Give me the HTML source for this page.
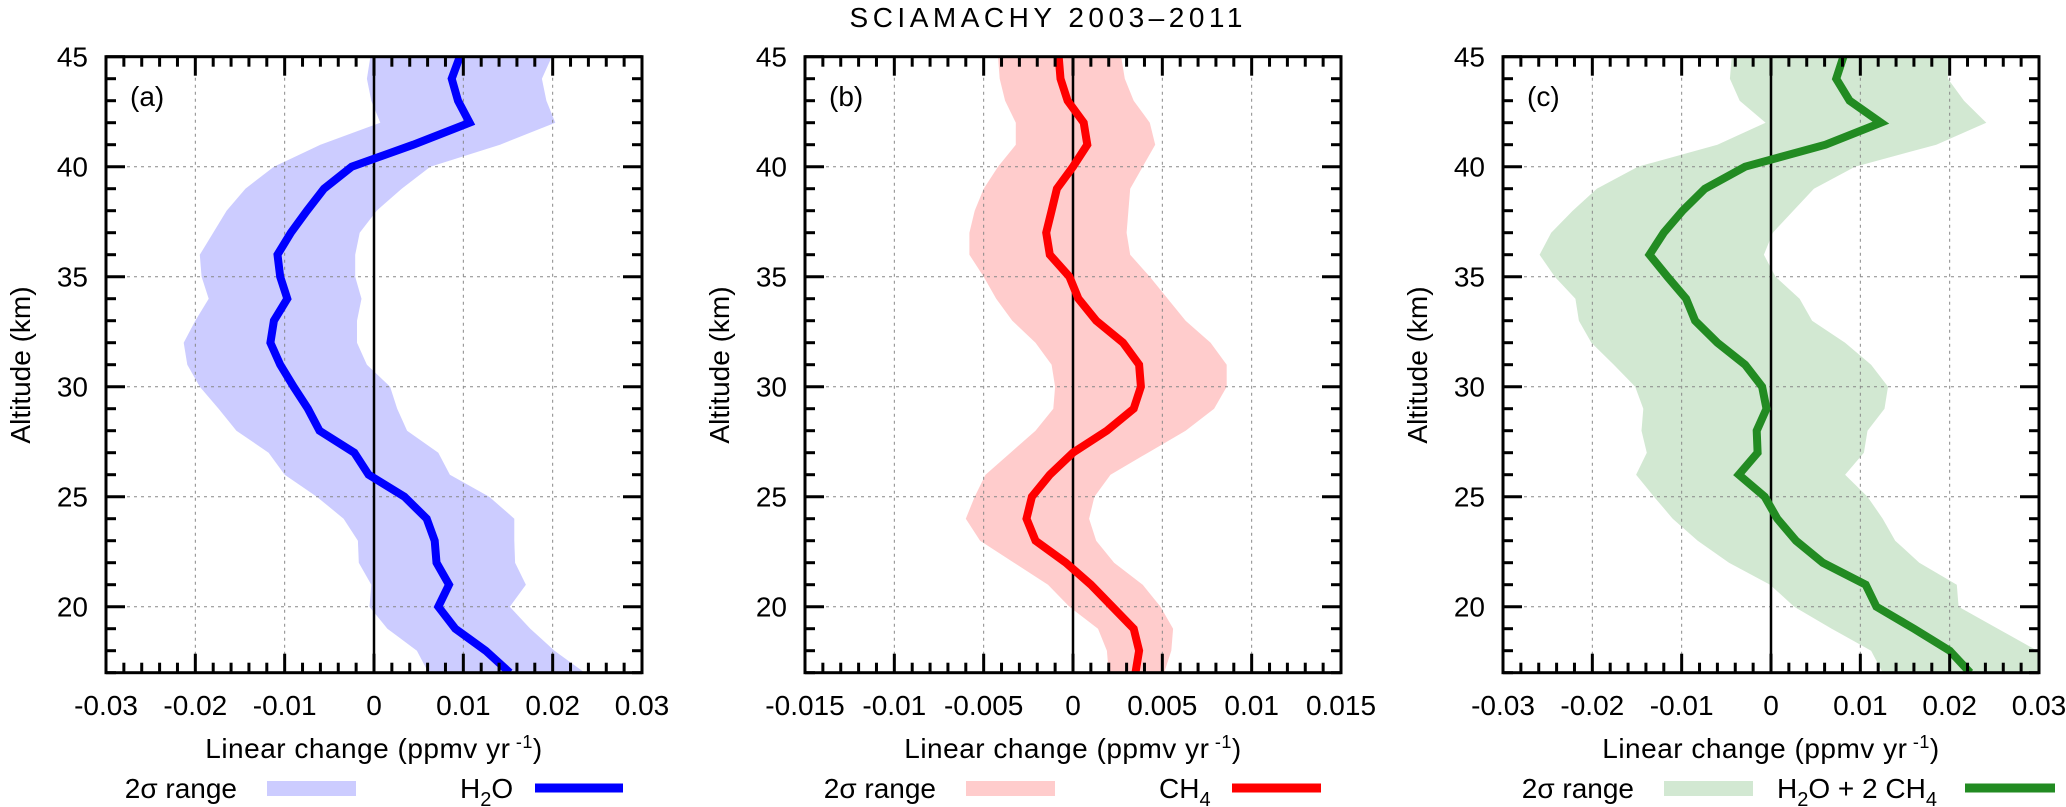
<!DOCTYPE html>
<html><head><meta charset="utf-8"><style>
html,body{margin:0;padding:0;background:#fff;}
svg{display:block;font-family:"Liberation Sans",sans-serif;}
</style></head><body>
<svg id="chart" width="2066" height="807" viewBox="0 0 2066 807" xmlns="http://www.w3.org/2000/svg">
<text x="1046" y="27" font-size="28" text-anchor="middle" textLength="393" lengthAdjust="spacing">SCIAMACHY 2003–2011</text>
</svg>
<script>
const altitudes = [45,44,43,42,41,40,39,38,37,36,35,34,33,32,31,30,29,28,27,26,25,24,23,22,21,20,19,18,17];

const aLine  = [0.0096,0.0087,0.0094,0.0107,0.0044,-0.0025,-0.0056,-0.0075,-0.0093,-0.0108,-0.0105,-0.0097,-0.0112,-0.0116,-0.0105,-0.0090,-0.0074,-0.0061,-0.0022,-0.0006,0.0034,0.0059,0.0068,0.0070,0.0084,0.0072,0.0091,0.0125,0.0152];
const aLower = [-0.0004,-0.0008,-0.0003,0.0007,-0.0060,-0.0112,-0.0144,-0.0165,-0.0180,-0.0195,-0.0193,-0.0185,-0.0200,-0.0213,-0.0209,-0.0195,-0.0174,-0.0154,-0.0118,-0.0100,-0.0064,-0.0034,-0.0018,-0.0017,-0.0003,-0.0005,0.0015,0.0048,0.0061];
const aUpper = [0.0199,0.0188,0.0193,0.0203,0.0141,0.0063,0.0031,0.0003,-0.0016,-0.0021,-0.0021,-0.0014,-0.0019,-0.0019,-0.0008,0.0018,0.0026,0.0037,0.0072,0.0085,0.0129,0.0157,0.0157,0.0158,0.0170,0.0152,0.0175,0.0202,0.0236];

const bLine  = [-0.0008,-0.0007,-0.0003,0.0006,0.0008,0.0000,-0.0009,-0.0012,-0.0015,-0.0013,-0.0002,0.0003,0.0013,0.0028,0.0037,0.0038,0.0034,0.0019,0.0000,-0.0013,-0.0023,-0.0026,-0.0021,-0.0004,0.0010,0.0022,0.0034,0.0037,0.0035];
const bLower = [-0.0042,-0.0041,-0.0038,-0.0032,-0.0032,-0.0042,-0.0050,-0.0055,-0.0058,-0.0058,-0.0050,-0.0043,-0.0034,-0.0021,-0.0012,-0.0010,-0.0011,-0.0021,-0.0035,-0.0049,-0.0055,-0.0060,-0.0052,-0.0033,-0.0014,-0.0002,0.0014,0.0019,0.0020];
const bUpper = [0.0027,0.0029,0.0034,0.0043,0.0046,0.0039,0.0032,0.0031,0.0030,0.0032,0.0043,0.0053,0.0063,0.0077,0.0086,0.0086,0.0079,0.0063,0.0042,0.0021,0.0012,0.0009,0.0013,0.0023,0.0039,0.0049,0.0056,0.0055,0.0051];

const cLine  = [0.0081,0.0073,0.0088,0.0123,0.0061,-0.0029,-0.0074,-0.0099,-0.0120,-0.0136,-0.0116,-0.0095,-0.0085,-0.0060,-0.0029,-0.0010,-0.0005,-0.0016,-0.0015,-0.0036,-0.0007,0.0007,0.0028,0.0058,0.0106,0.0118,0.0160,0.0200,0.0223];
const cLower = [-0.0044,-0.0046,-0.0035,-0.0006,-0.0060,-0.0149,-0.0195,-0.0222,-0.0246,-0.0259,-0.0242,-0.0219,-0.0215,-0.0201,-0.0176,-0.0152,-0.0143,-0.0145,-0.0139,-0.0151,-0.0131,-0.0110,-0.0082,-0.0047,-0.0001,0.0026,0.0068,0.0112,0.0125];
const cUpper = [0.0198,0.0198,0.0216,0.0241,0.0185,0.0094,0.0048,0.0025,0.0002,-0.0008,0.0005,0.0032,0.0046,0.0083,0.0112,0.0131,0.0127,0.0108,0.0104,0.0083,0.0108,0.0125,0.0139,0.0166,0.0208,0.0210,0.0254,0.0298,0.0310];

const ticksWide = [-0.03,-0.02,-0.01,0,0.01,0.02,0.03];
const ticksWideLabels = ["-0.03","-0.02","-0.01","0","0.01","0.02","0.03"];
const ticksNarrow = [-0.015,-0.01,-0.005,0,0.005,0.01,0.015];
const ticksNarrowLabels = ["-0.015","-0.01","-0.005","0","0.005","0.01","0.015"];
const yTicks = [20,25,30,35,40,45];

const NS = "http://www.w3.org/2000/svg";
const svg = document.getElementById('chart');
function mk(tag, attrs, parent){
  const e = document.createElementNS(NS, tag);
  for (const k in attrs) e.setAttribute(k, attrs[k]);
  (parent||svg).appendChild(e);
  return e;
}
const TOP = 56.7, BOT = 672.7, YMIN = 17, YMAX = 45;
function yScale(a){ return TOP + (YMAX - a) * (BOT - TOP) / (YMAX - YMIN); }

const panels = [
  {id:'a', left:106, right:642, xmin:-0.03, xmax:0.03, minor:0.002, ticks:ticksWide, labels:ticksWideLabels,
   line:aLine, lower:aLower, upper:aUpper, color:'#0000ff', band:'#ccccff', legendLabel:'h2o', lineX1:429, lineX2:517, labX:354},
  {id:'b', left:805, right:1341, xmin:-0.015, xmax:0.015, minor:0.001, ticks:ticksNarrow, labels:ticksNarrowLabels,
   line:bLine, lower:bLower, upper:bUpper, color:'#ff0000', band:'#ffcccc', legendLabel:'ch4', lineX1:427, lineX2:516, labX:354},
  {id:'c', left:1503, right:2039, xmin:-0.03, xmax:0.03, minor:0.002, ticks:ticksWide, labels:ticksWideLabels,
   line:cLine, lower:cLower, upper:cUpper, color:'#228b22', band:'#d2e8d2', legendLabel:'sum', lineX1:462, lineX2:552, labX:274}
];

panels.forEach(p => {
  const xs = v => p.left + (v - p.xmin) * (p.right - p.left) / (p.xmax - p.xmin);
  const g = mk('g', {});
  
  
  const clip = mk('clipPath', {id:'clip-' + p.id}, g);
  mk('rect', {x:p.left, y:TOP, width:p.right-p.left, height:BOT-TOP}, clip);
  const plot = mk('g', {'clip-path':'url(#clip-' + p.id + ')'}, g);

  // band
  let pts = [];
  altitudes.forEach((a,i) => pts.push(xs(p.upper[i]).toFixed(1) + ',' + yScale(a).toFixed(1)));
  for (let i = altitudes.length-1; i >= 0; i--) pts.push(xs(p.lower[i]).toFixed(1) + ',' + yScale(altitudes[i]).toFixed(1));
  const band = mk('polygon', {points:pts.join(' '), fill:p.band, stroke:'none'}, plot);
  
  

  // grid
  p.ticks.forEach((t,i) => {
    if (i === 0 || i === p.ticks.length-1) return;
    const gl = mk('line', {x1:xs(t), x2:xs(t), y1:TOP, y2:BOT, stroke:'#888', 'stroke-width':1, 'stroke-dasharray':'3,4'}, plot);
    
    
  });
  yTicks.forEach(t => {
    if (t === YMAX) return;
    const gl = mk('line', {x1:p.left, x2:p.right, y1:yScale(t), y2:yScale(t), stroke:'#888', 'stroke-width':1, 'stroke-dasharray':'3,4'}, plot);
    
    
  });
  // zero line
  const zl = mk('line', {x1:xs(0), x2:xs(0), y1:TOP, y2:BOT, stroke:'#000', 'stroke-width':2.5}, plot);
  
  

  // data line
  const lp = altitudes.map((a,i) => xs(p.line[i]).toFixed(1) + ',' + yScale(a).toFixed(1)).join(' ');
  const pl = mk('polyline', {points:lp, fill:'none', stroke:p.color, 'stroke-width':8, 'stroke-linejoin':'miter'}, plot);
  
  

  // ticks
  const tg = mk('g', {stroke:'#000', 'stroke-width':3}, g);
  for (let a = YMIN; a <= YMAX; a++) {
    const len = (a % 5 === 0) ? 19 : 10;
    mk('line', {x1:p.left, x2:p.left+len, y1:yScale(a), y2:yScale(a)}, tg);
    mk('line', {x1:p.right, x2:p.right-len, y1:yScale(a), y2:yScale(a)}, tg);
  }
  const nMinor = Math.round((p.xmax - p.xmin) / p.minor);
  const perMajor = Math.round((p.ticks[1]-p.ticks[0]) / p.minor);
  for (let k = 0; k <= nMinor; k++) {
    const v = p.xmin + k * p.minor;
    const len = (k % perMajor === 0) ? 19 : 10;
    mk('line', {x1:xs(v), x2:xs(v), y1:BOT, y2:BOT-len}, tg);
    mk('line', {x1:xs(v), x2:xs(v), y1:TOP, y2:TOP+len}, tg);
  }
  // frame
  const fr = mk('rect', {x:p.left, y:TOP, width:p.right-p.left, height:BOT-TOP, fill:'none', stroke:'#000', 'stroke-width':3}, g);
  
  

  // tick labels
  p.ticks.forEach((t,i) => {
    const tx = mk('text', {x:xs(t), y:715, 'font-size':28, 'text-anchor':'middle'}, g);
    
    
    tx.textContent = p.labels[i];
  });
  yTicks.forEach(t => {
    const tx = mk('text', {x:p.left-18, y:yScale(t)+10, 'font-size':28, 'text-anchor':'end'}, g);
    
    
    tx.textContent = String(t);
  });
  // panel label
  const pn = mk('text', {x:p.left+24, y:106, 'font-size':28}, g);
  
  
  pn.textContent = '(' + p.id + ')';
  // y axis title
  const yt = mk('text', {x:0, y:0, 'font-size':28, 'text-anchor':'middle', transform:'translate(' + (p.left-76) + ',365) rotate(-90)'}, g);
  
  
  yt.textContent = 'Altitude (km)';
  // x axis title
  const xt = mk('text', {x:(p.left+p.right)/2, y:758, 'font-size':28, 'text-anchor':'middle', 'letter-spacing':'0.5'}, g);
  
  
  xt.innerHTML = 'Linear change (ppmv yr<tspan dy="-10" font-size="18"> -1</tspan><tspan dy="10">)</tspan>';

  // legend
  const lg = mk('g', {}, g);
  
  
  const lt = mk('text', {x:p.left+131, y:798, 'font-size':28, 'text-anchor':'end'}, lg);
  
  
  lt.textContent = '2σ range';
  const sw = mk('rect', {x:p.left+161, y:781, width:89, height:15, fill:p.band}, lg);
  
  
  const ll = mk('text', {x:p.left+p.labX, y:798, 'font-size':28}, lg);
  
  
  if (p.legendLabel === 'h2o') ll.innerHTML = 'H<tspan dy="8" font-size="20">2</tspan><tspan dy="-8">O</tspan>';
  else if (p.legendLabel === 'ch4') ll.innerHTML = 'CH<tspan dy="8" font-size="20">4</tspan>';
  else ll.innerHTML = 'H<tspan dy="8" font-size="20">2</tspan><tspan dy="-8">O + 2 CH</tspan><tspan dy="8" font-size="20">4</tspan>';
  const ls = mk('line', {x1:p.left+p.lineX1, x2:p.left+p.lineX2, y1:788, y2:788, stroke:p.color, 'stroke-width':9}, lg);
  
  
});
</script>
</body></html>
